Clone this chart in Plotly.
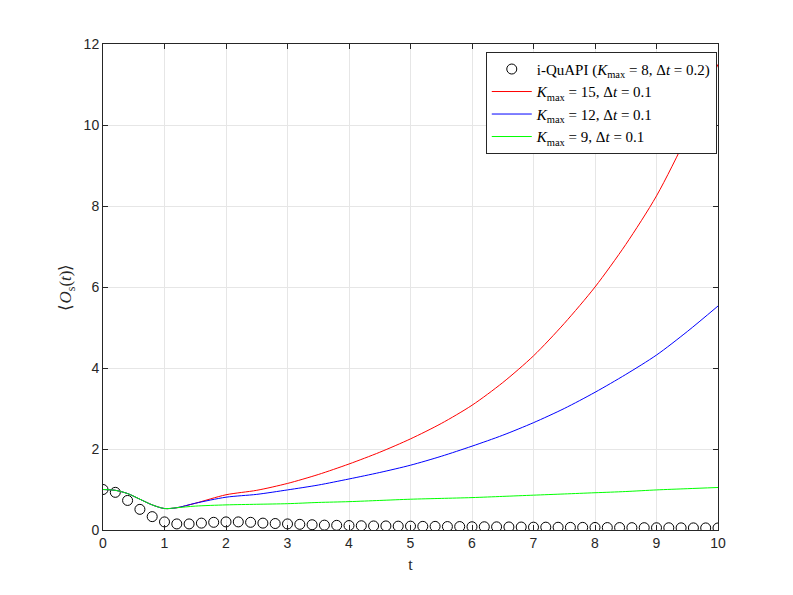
"""
Observável <O_s(t)> - comparação i-QuAPI vs diferentes K_max
"""
import plotly.graph_objects as go

# i-QuAPI (K_max = 8, dt = 0.2)
t_quapi = [round(0.2 * i, 1) for i in range(51)]
o_quapi = [1.0, 0.93, 0.73, 0.51, 0.33, 0.2, 0.15, 0.15, 0.17, 0.19,
           0.2, 0.2, 0.19, 0.17, 0.16, 0.15, 0.14, 0.13, 0.12, 0.115,
           0.11, 0.105, 0.1, 0.1, 0.095, 0.095, 0.09, 0.09, 0.085, 0.085,
           0.08, 0.08, 0.078, 0.075, 0.073, 0.07, 0.07, 0.068, 0.065, 0.065,
           0.063, 0.06, 0.06, 0.058, 0.057, 0.055, 0.055, 0.053, 0.052, 0.051,
           0.05]

# curvas com dt = 0.1
t_curve = [0, 0.2, 0.4, 0.6, 0.8, 1.0, 1.2, 1.5, 2, 2.5, 3, 3.5, 4, 4.5,
           5, 5.5, 6, 6.5, 7, 7.5, 8, 8.5, 9, 9.5, 10]
o_k15 = [1.0, 0.98, 0.9, 0.76, 0.62, 0.53, 0.55, 0.66, 0.87, 0.98, 1.15,
         1.37, 1.63, 1.92, 2.25, 2.63, 3.08, 3.64, 4.3, 5.1, 6.0, 7.05,
         8.25, 9.75, 11.5]
o_k12 = [1.0, 0.98, 0.9, 0.76, 0.62, 0.53, 0.55, 0.66, 0.81, 0.88, 0.99,
         1.11, 1.26, 1.42, 1.6, 1.82, 2.07, 2.34, 2.65, 3.0, 3.4, 3.84,
         4.32, 4.9, 5.53]
o_k9 = [1.0, 0.98, 0.9, 0.76, 0.62, 0.53, 0.55, 0.59, 0.62, 0.635, 0.65,
        0.68, 0.7, 0.73, 0.76, 0.78, 0.8, 0.83, 0.86, 0.89, 0.92, 0.95,
        0.99, 1.02, 1.05]

x_ticks = list(range(0, 11))
y_ticks = [0, 2, 4, 6, 8, 10, 12]

fig = go.Figure()

fig.add_trace(go.Scatter(
    x=t_quapi, y=o_quapi, mode='markers',
    name='i-QuAPI (<i>K</i><sub>max</sub> = 8, Δ<i>t</i> = 0.2)',
    marker=dict(symbol='circle-open', size=10, color='black',
                line=dict(width=1, color='black'))))

for y, cor, nome in [(o_k15, '#ff0000', '<i>K</i><sub>max</sub> = 15, Δ<i>t</i> = 0.1'),
                     (o_k12, '#0000ff', '<i>K</i><sub>max</sub> = 12, Δ<i>t</i> = 0.1'),
                     (o_k9, '#00ff00', '<i>K</i><sub>max</sub> = 9, Δ<i>t</i> = 0.1')]:
    fig.add_trace(go.Scatter(x=t_curve, y=y, mode='lines', name=nome,
                             line=dict(color=cor, width=1, shape='spline',
                                       smoothing=0.8)))

eixo = dict(showline=True, linecolor='#262626', linewidth=1, mirror='ticks',
            ticks='inside', ticklen=5, tickcolor='#262626',
            showgrid=True, gridcolor='#e6e6e6', gridwidth=1, zeroline=False,
            tickfont=dict(family='Liberation Sans, Arial', size=14, color='#262626'))

fig.update_xaxes(range=[0, 10], tickvals=x_ticks,
                 title=dict(text='t', font=dict(family='Liberation Serif', size=16,
                                                color='#262626'), standoff=9),
                 **eixo)
fig.update_yaxes(range=[0, 12], tickvals=y_ticks,
                 title=dict(text='⟨<i>O</i><sub>s</sub>(<i>t</i>)⟩',
                            font=dict(family='Liberation Serif', size=17,
                                      color='#262626'), standoff=7),
                 **eixo)

# a página tem margem de 8px no body, por isso o desconto nas margens
fig.update_layout(
    width=785, height=587,
    margin=dict(l=95, r=75, t=36, b=65),
    paper_bgcolor='white', plot_bgcolor='white',
    showlegend=True,
    legend=dict(x=0.998, y=0.984, xanchor='right', yanchor='top',
                bgcolor='white', bordercolor='#262626', borderwidth=1,
                font=dict(family='Liberation Serif', size=15, color='black'),
                tracegroupgap=0, itemwidth=40),
)

fig.write_html("out.html")
